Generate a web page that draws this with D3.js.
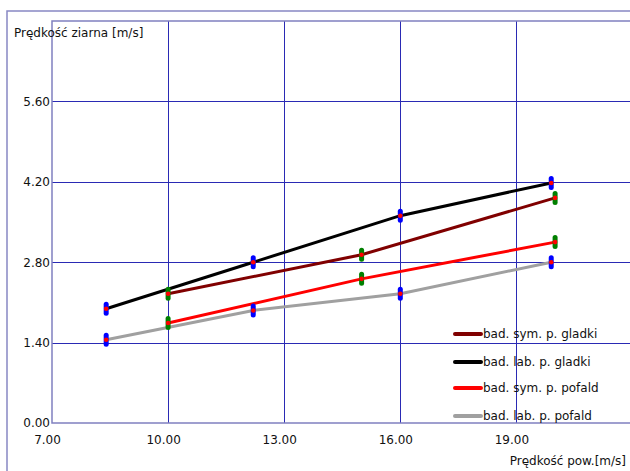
<!DOCTYPE html>
<html><head><meta charset="utf-8">
<script src="https://cdn.jsdelivr.net/npm/d3@7"></script>
<style>
html,body{margin:0;padding:0;background:#fff;}
svg{display:block;}
text{font-family:"DejaVu Sans",Verdana,sans-serif;font-size:12px;fill:#111;}
</style></head>
<body>
<svg id="c" width="630" height="471"></svg>
<script>
const xTicks = [7, 10, 13, 16, 19];
const yTicks = [0, 1.4, 2.8, 4.2, 5.6];
const seriesNames = ["bad. sym. p. gladki", "bad. lab. p. gladki", "bad. sym. p. pofald", "bad. lab. p. pofald"];
const seriesColors = ["#800000", "#000000", "#ff0000", "#a0a0a0"];
const markerColors = ["#008000", "#0000ff", "#008000", "#0000ff"];
const symX = [10.0, 15.0, 20.0];
const labX = [8.4, 12.2, 16.0, 19.9];
const symGladki = [2.25, 2.93, 3.92];
const labGladki = [1.99, 2.80, 3.61, 4.18];
const symPofald = [1.74, 2.51, 3.15];
const labPofald = [1.45, 1.96, 2.25, 2.80];

const seriesX = [symX, labX, symX, labX];
const seriesY = [symGladki, labGladki, symPofald, labPofald];

const svg = d3.select("#c");
const x = d3.scaleLinear().domain([7, 22]).range([52, 632.5]);
const y = d3.scaleLinear().domain([0, 7]).range([423, 21]);

// outer frame
svg.append("rect").attr("x", 7).attr("y", 11).attr("width", 640).attr("height", 480)
  .attr("fill", "none").attr("stroke", "#8888c4").attr("stroke-width", 1.5);

// grid
const g = svg.append("g");
g.selectAll("line.h").data(yTicks.slice(1)).join("line")
  .attr("x1", x(7)).attr("x2", 630)
  .attr("y1", d => Math.round(y(d)) + 0.5).attr("y2", d => Math.round(y(d)) + 0.5)
  .attr("stroke", "#2a2ab4").attr("stroke-width", 1);
g.selectAll("line.v").data(xTicks.slice(1)).join("line")
  .attr("y1", y(7)).attr("y2", y(0))
  .attr("x1", d => Math.round(x(d)) + 0.5).attr("x2", d => Math.round(x(d)) + 0.5)
  .attr("stroke", "#2a2ab4").attr("stroke-width", 1);

// plot border (top, left, bottom)
svg.append("path")
  .attr("d", `M630,${y(7)}H${x(7)}V${y(0)}H630`)
  .attr("fill", "none").attr("stroke", "#8080c0").attr("stroke-width", 1.5);

// axes
const yAxis = d3.axisLeft(y).tickValues(yTicks).tickFormat(d3.format(".2f")).tickSize(0).tickPadding(2);
svg.append("g").attr("transform", `translate(${x(7)},0)`).call(yAxis)
  .call(s => s.select(".domain").remove())
  .call(s => s.selectAll("text").attr("font-family", "DejaVu Sans").attr("font-size", 12).attr("fill", "#111"));
const xAxis = d3.axisBottom(x).tickValues(xTicks).tickFormat(d3.format(".2f")).tickSize(0).tickPadding(12);
svg.append("g").attr("transform", `translate(-5,${y(0)})`).call(xAxis)
  .call(s => s.select(".domain").remove())
  .call(s => s.selectAll("text").attr("font-family", "DejaVu Sans").attr("font-size", 12).attr("fill", "#111"));

// titles
svg.append("text").attr("x", 14).attr("y", 37).text("Prędkość ziarna [m/s]");
svg.append("text").attr("x", 626).attr("y", 465).attr("text-anchor", "end").text("Prędkość pow.[m/s]");

// lines
const line = d3.line().x(d => x(d[0])).y(d => y(d[1]));
seriesNames.forEach((n, i) => {
  const pts = seriesX[i].map((xv, j) => [xv, seriesY[i][j]]);
  svg.append("path").datum(pts).attr("d", line)
    .attr("fill", "none").attr("stroke", seriesColors[i]).attr("stroke-width", 3);
});
// markers
seriesNames.forEach((n, i) => {
  const pts = seriesX[i].map((xv, j) => [xv, seriesY[i][j]]);
  const mg = svg.append("g");
  mg.selectAll("rect").data(pts).join("rect")
    .attr("x", d => x(d[0]) - 2.5).attr("y", d => y(d[1]) - 7)
    .attr("width", 5).attr("height", 14).attr("rx", 2.5)
    .attr("fill", markerColors[i]);
  mg.selectAll("circle").data(pts).join("circle")
    .attr("cx", d => x(d[0])).attr("cy", d => y(d[1])).attr("r", 2.3)
    .attr("fill", "#ff0000");
});

// legend
const legY = [334, 362, 388, 416];
const lg = svg.append("g");
seriesNames.forEach((n, i) => {
  lg.append("line").attr("x1", 455).attr("x2", 481).attr("y1", legY[i]).attr("y2", legY[i])
    .attr("stroke", seriesColors[i]).attr("stroke-width", 4).attr("stroke-linecap", "round");
  lg.append("text").attr("x", 483).attr("y", legY[i] + 4).text(n);
});
</script>
</body></html>
